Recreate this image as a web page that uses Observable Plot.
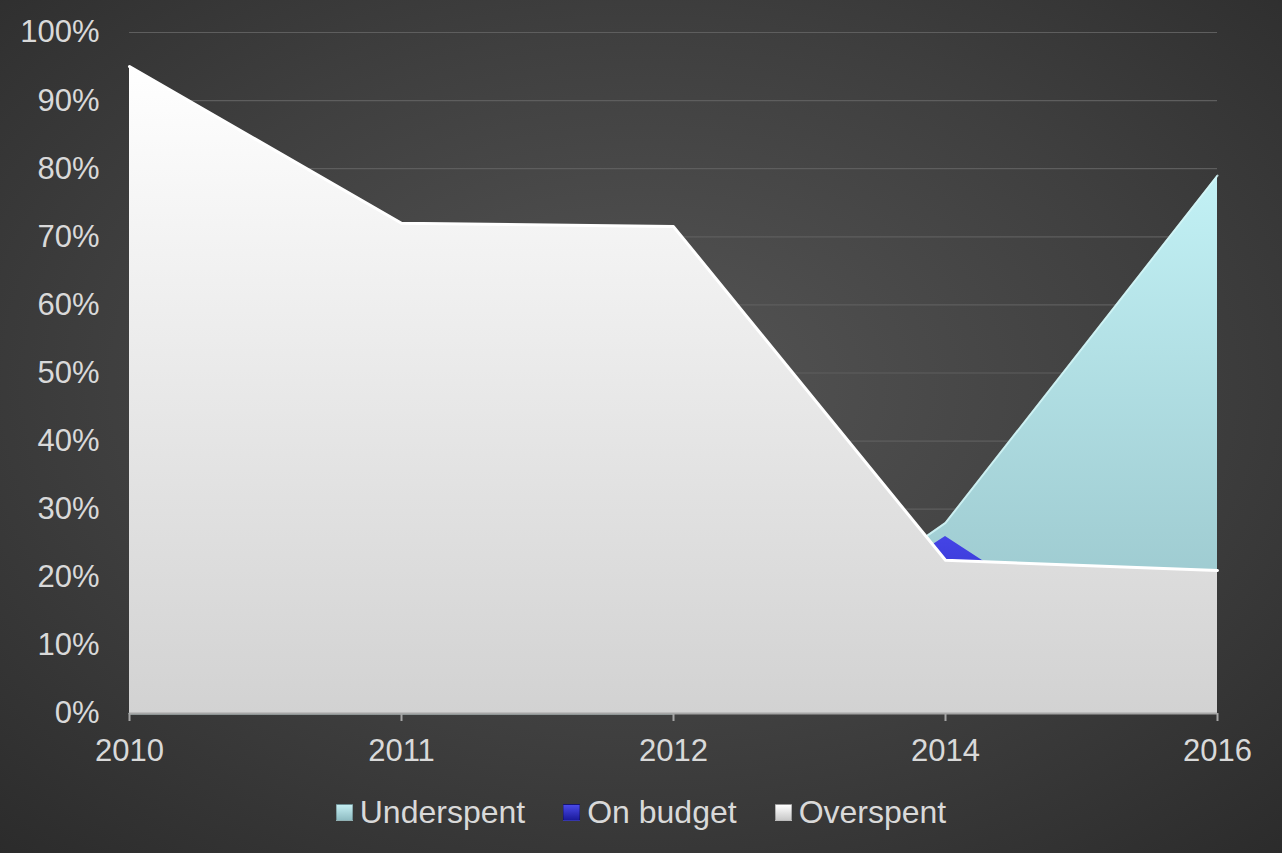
<!DOCTYPE html>
<html>
<head>
<meta charset="utf-8">
<script src="https://cdn.jsdelivr.net/npm/d3@7"></script>
<script src="https://cdn.jsdelivr.net/npm/@observablehq/plot@0.6"></script>
<style>
  html, body { margin: 0; padding: 0; }
  body {
    width: 1282px; height: 853px; overflow: hidden;
    background: radial-gradient(ellipse 75% 75% at 50% 45%, #555555 0%, #3f3f3f 55%, #2b2b2b 100%);
    font-family: "Liberation Sans", Arial, sans-serif;
  }
  #chart svg { display: block; background: transparent; }
  #legend {
    display: flex; justify-content: center; align-items: center;
    height: 64px; margin-top: 0px; color: #d9d9d9; font-size: 32px;
  }
  .item { display: flex; align-items: center; margin: 0 19px; }
  .sw { width: 17px; height: 17px; margin-right: 7px; box-sizing: border-box; }
</style>
</head>
<body>
<div id="chart"></div>
<div id="legend"></div>
<script>
const years = ["2010", "2011", "2012", "2014", "2016"];
const underspent = [0, 0, 0, 28, 79];
const onBudget = [0, 0, 0, 26, 0];
const overspent = [95, 72, 71.5, 22.5, 21];
const yTicks = [0, 10, 20, 30, 40, 50, 60, 70, 80, 90, 100];
const seriesNames = ["Underspent", "On budget", "Overspent"];

const rows = (vals) => years.map((y, i) => ({year: y, value: vals[i]}));

const chart = Plot.plot({
  width: 1282,
  height: 780,
  marginLeft: 129,
  marginRight: 65,
  marginTop: 32,
  marginBottom: 67,
  style: {background: "transparent", color: "#d9d9d9", fontFamily: "'Liberation Sans', Arial, sans-serif", fontSize: "31px"},
  x: {type: "point", domain: years, padding: 0, label: null},
  y: {domain: [0, 100], label: null},
  marks: [
    Plot.ruleY(yTicks.filter(d => d > 0), {stroke: "#5e5e5e", strokeWidth: 1.2}),
    Plot.areaY(rows(underspent), {x: "year", y: "value", fill: "url(#gUnder)"}),
    Plot.lineY(rows(underspent), {x: "year", y: "value", stroke: "#d4f6f8", strokeWidth: 2, strokeOpacity: 0.8}),
    Plot.areaY(rows(onBudget), {x: "year", y: "value", fill: "url(#gOn)"}),
    Plot.areaY(rows(overspent), {x: "year", y: "value", fill: "url(#gOver)"}),
    Plot.lineY(rows(overspent), {x: "year", y: "value", stroke: "#ffffff", strokeWidth: 3}),
    Plot.ruleY([0], {stroke: "#a6a6a6", strokeWidth: 2}),
    Plot.axisY({ticks: yTicks, tickFormat: d => d + "%", tickSize: 0, tickPadding: 30, fill: "#d9d9d9"}),
    Plot.axisX({tickSize: 8, tickPadding: 17, stroke: "#a6a6a6", fill: "#d9d9d9", strokeWidth: 2})
  ]
});

const defs = d3.select(chart).insert("defs", ":first-child");
function grad(id, c0, c1) {
  const g = defs.append("linearGradient").attr("id", id).attr("x1", 0).attr("y1", 0).attr("x2", 0).attr("y2", 1);
  g.append("stop").attr("offset", "0%").attr("stop-color", c0);
  g.append("stop").attr("offset", "100%").attr("stop-color", c1);
}
grad("gUnder", "#c2f1f5", "#93bfc5");
grad("gOn", "#4444e6", "#1c1ca8");
grad("gOver", "#ffffff", "#d2d2d2");

document.getElementById("chart").appendChild(chart);

const swatches = [
  "linear-gradient(#c4eef2, #8fbcc2)",
  "linear-gradient(#4a4ae8, #1a1a9a)",
  "linear-gradient(#ffffff, #c8c8c8)"
];
const legend = document.getElementById("legend");
seriesNames.forEach((name, i) => {
  const item = document.createElement("div");
  item.className = "item";
  const sw = document.createElement("div");
  sw.className = "sw";
  sw.style.background = swatches[i];
  sw.style.border = "1px solid rgba(0,0,0,0.25)";
  const t = document.createElement("span");
  t.textContent = name;
  item.appendChild(sw);
  item.appendChild(t);
  legend.appendChild(item);
});
</script>
</body>
</html>
